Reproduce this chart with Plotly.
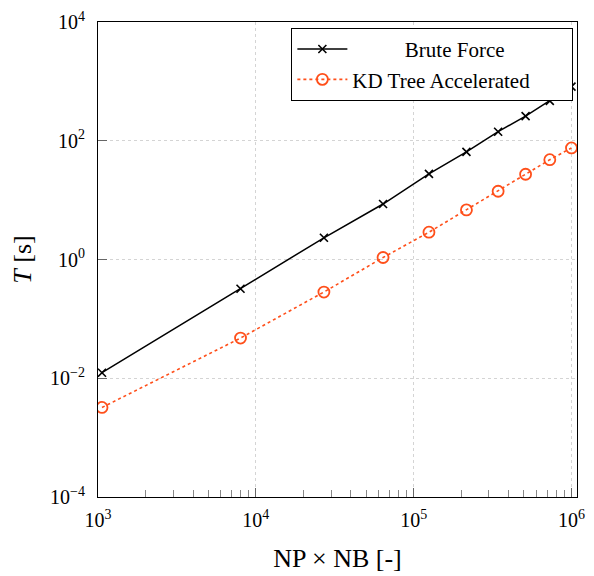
import plotly.graph_objects as go

# ---- data ----
np_nb = [1060, 8000, 27000, 64000, 125000, 216000, 343000, 512000, 729000, 1000000]
t_brute = [0.0124, 0.322, 2.32, 8.6, 27.7, 65, 142, 260, 470, 815]
t_kdtree = [0.00322, 0.0475, 0.283, 1.08, 2.88, 6.85, 14.1, 27.3, 48, 75.7]

x_tickvals = [1e3, 1e4, 1e5, 1e6]
x_ticktext = ["10<sup>3</sup>", "10<sup>4</sup>", "10<sup>5</sup>", "10<sup>6</sup>"]
y_tickvals = [1e-4, 1e-2, 1e0, 1e2, 1e4]
y_ticktext = ["10<sup>\u22124</sup>", "10<sup>\u22122</sup>", "10<sup>0</sup>",
              "10<sup>2</sup>", "10<sup>4</sup>"]
x_minor = [m * 10 ** k for k in (3, 4, 5) for m in range(2, 10)]

FONT = "Liberation Serif"
RED = "#ff4f1a"
NBSP = "\u00a0"

fig = go.Figure()
fig.add_trace(go.Scatter(
    x=np_nb, y=t_brute, mode="lines+markers",
    name=NBSP * 10 + "Brute Force",
    line=dict(color="black", width=1.5),
    marker=dict(symbol="x-thin", size=8, line=dict(width=1.6, color="black"), color="black"),
))
fig.add_trace(go.Scatter(
    x=np_nb, y=t_kdtree, mode="lines+markers",
    name="KD Tree Accelerated" + NBSP * 7,
    line=dict(color=RED, width=1.6, dash="dot"),
    marker=dict(symbol="circle-open", size=11, line=dict(width=1.8, color=RED), color=RED),
))

axis_common = dict(
    type="log", showline=True, linecolor="black", linewidth=1.2, mirror=True,
    ticks="inside", ticklen=9, tickcolor="#666", tickwidth=1,
    showgrid=True, gridcolor="#d4d4d4", griddash="dot", gridwidth=1,
    zeroline=False, tickfont=dict(family=FONT, size=20, color="black"),
)

fig.update_xaxes(
    **axis_common, range=[3, 6.035], tickvals=x_tickvals, ticktext=x_ticktext,
    ticklabelstandoff=5,
    minor=dict(tickvals=x_minor, ticks="inside", ticklen=7, tickcolor="#888", showgrid=False),
    title=dict(text="NP \u00d7 NB [-]", font=dict(family=FONT, size=26, color="black"), standoff=18),
)
fig.update_yaxes(
    **axis_common, range=[-4, 4], tickvals=y_tickvals, ticktext=y_ticktext,
    ticklabelstandoff=8,
    title=dict(text="<i>T</i> [s]", font=dict(family=FONT, size=26, color="black"), standoff=10),
)

fig.update_layout(
    width=594, height=576,
    margin=dict(l=98, r=9, t=16, b=72),
    plot_bgcolor="white", paper_bgcolor="white",
    font=dict(family=FONT, color="black"),
    legend=dict(
        x=0.992, y=0.988, xanchor="right", yanchor="top",
        bgcolor="white", bordercolor="black", borderwidth=1.2,
        font=dict(family=FONT, size=21, color="black"),
        itemwidth=50, tracegroupgap=0,
    ),
    showlegend=True,
)

fig.write_html("out.html")
